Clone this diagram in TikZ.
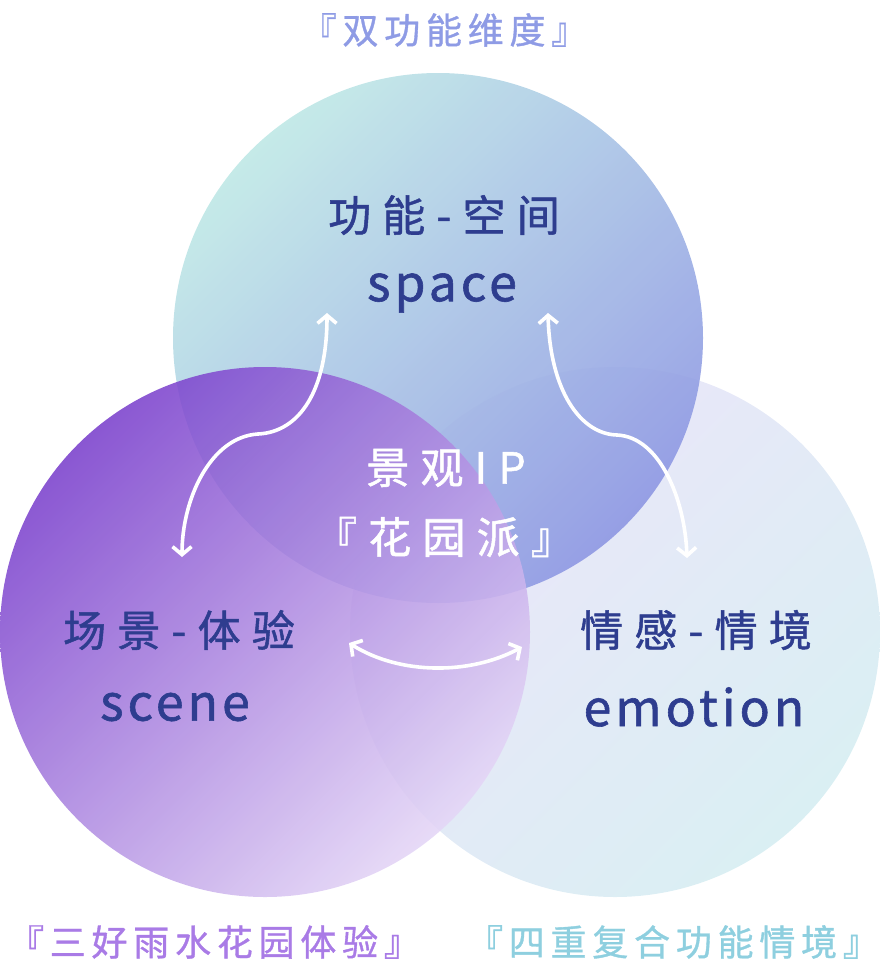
\documentclass[tikz,border=0pt]{standalone}
\usepackage{fontspec}
\setmainfont{Noto Sans CJK SC}[FakeBold=1.2]
\newfontfamily\cjkw{Noto Sans CJK SC}[FakeBold=1.2,LetterSpace=26]
\newfontfamily\cjkl{Noto Sans CJK SC}[FakeBold=1.0,LetterSpace=16]
\newfontfamily\latinf{Noto Sans CJK SC}[FakeBold=1.2,LetterSpace=8]
\usetikzlibrary{arrows.meta}
\definecolor{navy}{HTML}{2E3D8F}
\definecolor{topA}{HTML}{BFE8E6}
\definecolor{topB}{HTML}{8E98E3}
\definecolor{leftA}{HTML}{7A40CC}
\definecolor{leftB}{HTML}{E4D6F6}
\definecolor{rightA}{HTML}{ECE5FA}
\definecolor{rightB}{HTML}{DAEFF3}
\definecolor{lblTop}{HTML}{8E9BE5}
\definecolor{lblLeft}{HTML}{A97BE6}
\definecolor{lblRight}{HTML}{8ECFDF}
\tikzset{
  dimtext/.style={text=navy, font=\cjkw\fontsize{43}{46}\selectfont, inner sep=0pt},
  latintext/.style={text=navy, font=\latinf\fontsize{50}{54}\selectfont, inner sep=0pt},
  centertext/.style={text=white, font=\cjkw\fontsize{43}{46}\selectfont, inner sep=0pt},
  outlabel/.style={font=\cjkl\fontsize{36}{40}\selectfont, inner sep=0pt},
  wharrow/.style={draw=white, line width=3.6pt, line cap=round,
    {Straight Barb[length=8pt,width=19pt,line width=3.6pt]}-{Straight Barb[length=8pt,width=19pt,line width=3.6pt]}}
}
\begin{document}
\begin{tikzpicture}[x=1pt,y=-1pt]
\useasboundingbox (0,0) rectangle (880,980);
% circles
\shade[shading=axis, top color=rightA, bottom color=rightB, shading angle=45] (615,632) circle (265);
\shade[shading=axis, top color=topA, bottom color=topB, shading angle=45, fill opacity=0.9] (438,338) circle (265);
\shade[shading=axis, top color=leftA, bottom color=leftB, shading angle=45, fill opacity=0.88] (265,632) circle (265);
% texts
\node[dimtext] (t1) at (444,215) {功能-空间};
\node[latintext] (t2) at (442,293) {space};
\node[dimtext] (l1) at (179,630) {场景-体验};
\node[latintext] (l2) at (175,707) {scene};
\node[dimtext] (r1) at (696,630) {情感-情境};
\node[latintext] (r2) at (694,707) {emotion};
\node[centertext] (c1) at (446,468) {景观IP};
\node[centertext] (c2) at (444,537) {『花园派』};
\node[outlabel, text=lblTop] (ot) at (444,30) {『双功能维度』};
\node[outlabel, text=lblLeft] (ol) at (214,942) {『三好雨水花园体验』};
\node[outlabel, text=lblRight] (or) at (673,942) {『四重复合功能情境』};
% arrow anchors
\coordinate (a1) at (327,313);
\coordinate (a2) at (182,557);
\coordinate (b1) at (548,313);
\coordinate (b2) at (687,558);
\coordinate (c1a) at (349,643);
\coordinate (c2a) at (522,647);
\draw[wharrow] (a1) .. controls (327,390) and (300,432) .. (258,434) .. controls (210,437) and (182,500) .. (a2);
\draw[wharrow] (b1) .. controls (550,390) and (580,434) .. (617,435) .. controls (660,437) and (685,500) .. (b2);
\draw[wharrow] (c1a) .. controls (400,675) and (470,675) .. (c2a);
\end{tikzpicture}
\end{document}
